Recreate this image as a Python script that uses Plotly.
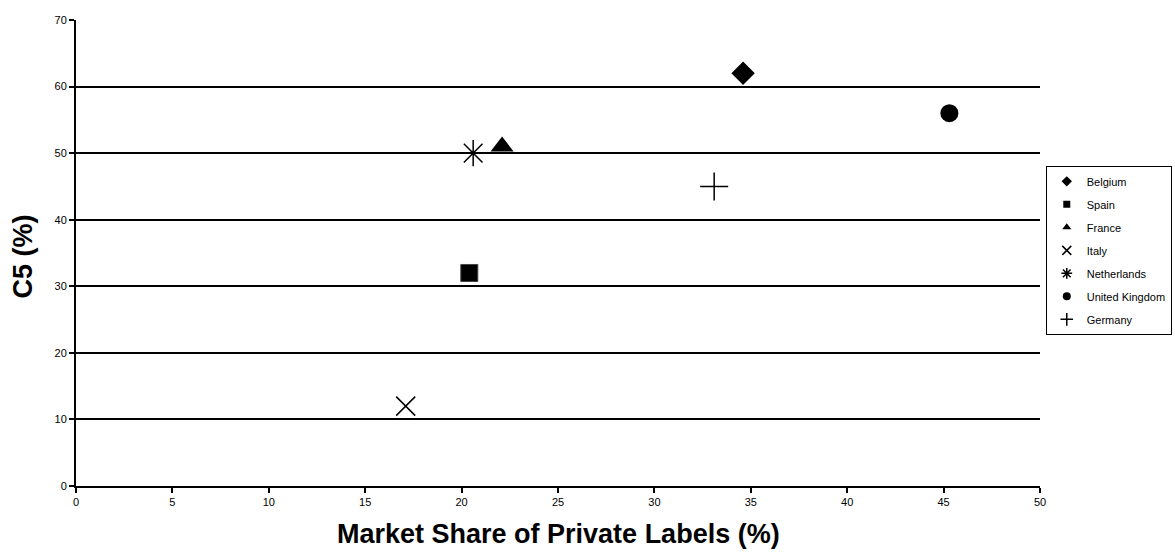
import plotly.graph_objects as go

countries = ["Belgium", "Spain", "France", "Italy", "Netherlands", "United Kingdom", "Germany"]
market_share = [34.6, 20.4, 22.1, 17.1, 20.6, 45.3, 33.1]
c5 = [62, 32, 51, 12, 50, 56, 45]
symbols = ["diamond", "square", "triangle-up", "x-thin-open", "asterisk-open", "circle", "cross-thin-open"]
sizes = [18, 17, 20, 19, 22, 18, 20]
legend_sizes = [8, 7, 8, 9, 9, 8, 9]

fig = go.Figure()
for name, xv, yv, sym, sz in zip(countries, market_share, c5, symbols, sizes):
    open_sym = sym.endswith("open")
    fig.add_trace(go.Scatter(
        x=[xv], y=[yv], mode="markers", name=name, showlegend=False,
        marker=dict(symbol=sym, size=sz, color="black",
                    line=dict(color="#444" if sym == "square" else "black",
                              width=1.5 if open_sym else (1 if sym == "square" else 0))),
    ))
for name, sym, lsz in zip(countries, symbols, legend_sizes):
    open_sym = sym.endswith("open")
    fig.add_trace(go.Scatter(
        x=[None], y=[None], mode="markers", name=name, showlegend=True, legendgroup=name,
        marker=dict(symbol=sym, size=lsz, color="black",
                    line=dict(color="black", width=1.5 if open_sym else 0)),
    ))

fig.update_layout(
    width=1175, height=553,
    margin=dict(l=76, r=135, t=20, b=67, autoexpand=False),
    plot_bgcolor="white", paper_bgcolor="white",
    font=dict(family="Arial, Liberation Sans, sans-serif", color="black", size=11),
    showlegend=True,
    legend=dict(x=1.006, y=0.687, xanchor="left", yanchor="top",
                bordercolor="black", borderwidth=1, bgcolor="white",
                font=dict(size=11, color="black"), itemwidth=30, tracegroupgap=4,
                traceorder="grouped"),
    xaxis=dict(range=[0, 50], tickvals=[0, 5, 10, 15, 20, 25, 30, 35, 40, 45, 50],
               showgrid=False, zeroline=False, showline=True, linecolor="black", linewidth=2,
               ticks="outside", ticklen=5, tickcolor="black", tickwidth=1.5,
               tickfont=dict(size=11, color="black")),
    yaxis=dict(range=[0, 70], tickvals=[0, 10, 20, 30, 40, 50, 60, 70],
               showgrid=True, gridcolor="black", gridwidth=1.5, zeroline=False,
               showline=True, linecolor="black", linewidth=2,
               ticks="outside", ticklen=5, tickcolor="black", tickwidth=1.5,
               tickfont=dict(size=11, color="black")),
    annotations=[
        dict(text="<b>Market Share of Private Labels (%)</b>", xref="paper", yref="paper",
             x=0.5, y=-0.104, xanchor="center", yanchor="middle", showarrow=False,
             font=dict(size=27, family="Arial, Liberation Sans, sans-serif", color="black")),
        dict(text="<b>C5 (%)</b>", xref="paper", yref="paper", x=-0.0555, y=0.4936,
             xanchor="center", yanchor="middle", textangle=-90, showarrow=False,
             font=dict(size=27, family="Arial, Liberation Sans, sans-serif", color="black")),
    ],
)

fig.write_html("out.html")
